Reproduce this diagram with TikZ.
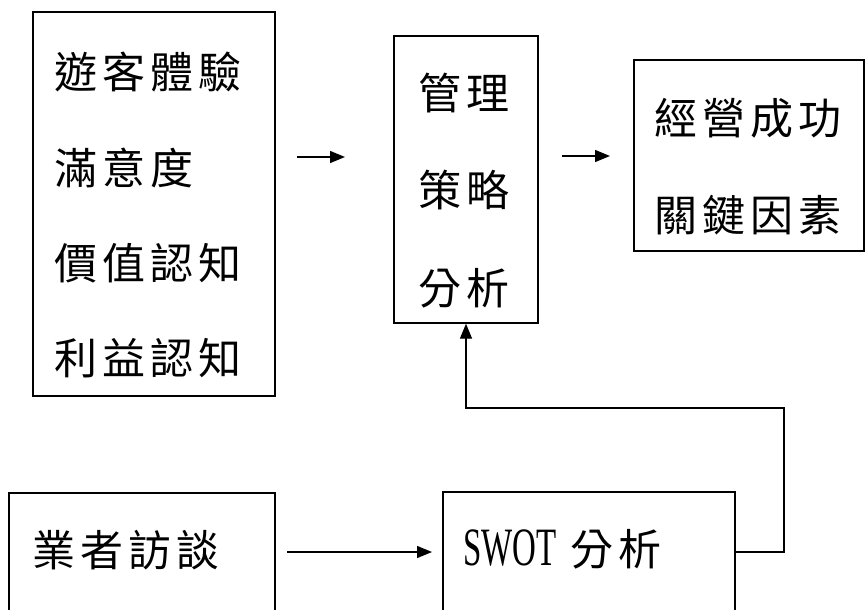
\documentclass[tikz,border=0pt]{standalone}
\usepackage{fontspec}
\setmainfont{Liberation Serif}
\newfontfamily\cjk{Noto Sans CJK TC}
\newfontfamily\swotfont[FakeStretch=0.61]{Liberation Serif}
\usetikzlibrary{arrows.meta}
\newcommand{\gp}{\kern5pt}
\begin{document}
\begin{tikzpicture}[x=1pt,y=-1pt,
  box/.style={draw,line width=1.4pt,minimum width=#1,inner sep=0pt},
  lbl/.style={font=\cjk\fontsize{43}{43}\selectfont,inner sep=0pt},
  flow/.style={line width=1.4pt,-{Triangle[length=15pt,width=12pt]}}]
\clip (0,0) rectangle (865,610);
\fill[white] (0,0) rectangle (865,610);
% boxes
\node[box=242pt,minimum height=384pt] (b1) at (154,204) {};
\node[box=144pt,minimum height=287pt] (b2) at (466,179.5) {};
\node[box=230pt,minimum height=191pt] (b3) at (749,155.5) {};
\node[box=266pt,minimum height=137pt] (b4) at (142,561.5) {};
\node[box=292pt,minimum height=138pt] (b5) at (589,561) {};
% texts box 1
\node[lbl,anchor=west] (t11) at (54,72) {遊\gp 客\gp 體\gp 驗};
\node[lbl,anchor=west] (t12) at (54,168) {滿\gp 意\gp 度};
\node[lbl,anchor=west] (t13) at (54,263) {價\gp 值\gp 認\gp 知};
\node[lbl,anchor=west] (t14) at (54,358) {利\gp 益\gp 認\gp 知};
% texts box 2
\node[lbl] (t21) at (464,93) {管\gp 理};
\node[lbl] (t22) at (464,190) {策\gp 略};
\node[lbl] (t23) at (464,288) {分\gp 析};
% texts box 3
\node[lbl,anchor=west] (t31) at (654,118) {經\gp 營\gp 成\gp 功};
\node[lbl,anchor=west] (t32) at (654,215) {關\gp 鍵\gp 因\gp 素};
% box 4
\node[lbl,anchor=west] (t4) at (32,550) {業\gp 者\gp 訪\gp 談};
% box 5
\node[inner sep=0pt,anchor=west] (t5) at (463,549)
  {\swotfont\fontsize{54}{54}\selectfont SWOT\kern14pt\cjk\fontsize{43}{43}\selectfont 分\gp 析};
% arrow end points
\coordinate (a1s) at (297,157);
\coordinate (a1e) at (345,157);
\coordinate (a2s) at (562,156);
\coordinate (a2e) at (610,156);
\coordinate (a3s) at (287,552);
\coordinate (a3e) at (432,552);
\coordinate (c1) at (784,552);
\coordinate (c2) at (784,408);
\coordinate (c3) at (466,408);
\draw[flow] (a1s) -- (a1e);
\draw[flow] (a2s) -- (a2e);
\draw[flow] (a3s) -- (a3e);
\draw[flow] (b5.east |- c1) -- (c1) -- (c2) -- (c3) -- (b2.south);
\end{tikzpicture}
\end{document}
